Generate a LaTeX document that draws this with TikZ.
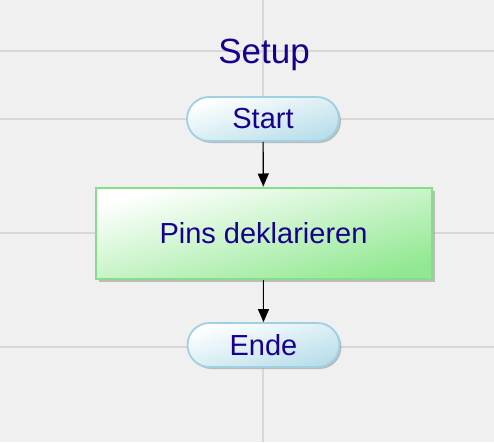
\documentclass[tikz,border=0pt]{standalone}
\usepackage{fontspec}
\setmainfont{Liberation Sans}
\usetikzlibrary{shadows,arrows.meta}
\definecolor{bg}{RGB}{240,240,240}
\definecolor{gridc}{RGB}{216,216,216}
\definecolor{txt}{RGB}{24,0,140}
\definecolor{termfill}{RGB}{184,222,234}
\definecolor{termdraw}{RGB}{160,208,226}
\definecolor{procfill}{RGB}{146,232,146}
\definecolor{procdraw}{RGB}{136,222,136}
\tikzset{
  gridline/.style={draw=gridc, line width=1.3pt},
  terminal/.style={draw=termdraw, line width=1.8pt, rounded corners=22pt,
    top color=white, bottom color=termfill, shading angle=16,
    minimum width=152pt, minimum height=44pt, text=txt,
    font=\fontsize{29pt}{32pt}\selectfont,
    drop shadow={shadow xshift=2pt, shadow yshift=-2pt, fill=black!40, opacity=0.6}},
  process/.style={draw=procdraw, line width=2pt,
    top color=white, bottom color=procfill, shading angle=15,
    minimum width=336pt, minimum height=91pt, text=txt,
    font=\fontsize{29pt}{32pt}\selectfont,
    drop shadow={shadow xshift=3pt, shadow yshift=-3pt, fill=black!40, opacity=0.6}},
  titletext/.style={text=txt, font=\fontsize{35pt}{38pt}\selectfont},
  flow/.style={draw=black, line width=1.2pt, -{Triangle[width=11pt,length=13pt]}}
}
\begin{document}
\begin{tikzpicture}[x=1pt,y=-1pt]
  \fill[bg] (0,0) rectangle (494,442);
  \useasboundingbox (0,0) rectangle (494,442);
  \draw[gridline] (0,51) -- (494,51);
  \draw[gridline] (0,119) -- (494,119);
  \draw[gridline] (0,233) -- (494,233);
  \draw[gridline] (0,347) -- (494,347);
  \draw[gridline] (263,0) -- (263,442);
  \node[titletext] (title) at (264,55) {Setup};
  \node[terminal] (start) at (263,119) {Start};
  \node[process] (proc) at (263.5,233) {Pins deklarieren};
  \node[terminal] (ende) at (263.5,345) {Ende};
  \draw[flow] (start) -- (proc);
  \draw[flow] (proc) -- (ende);
\end{tikzpicture}
\end{document}
